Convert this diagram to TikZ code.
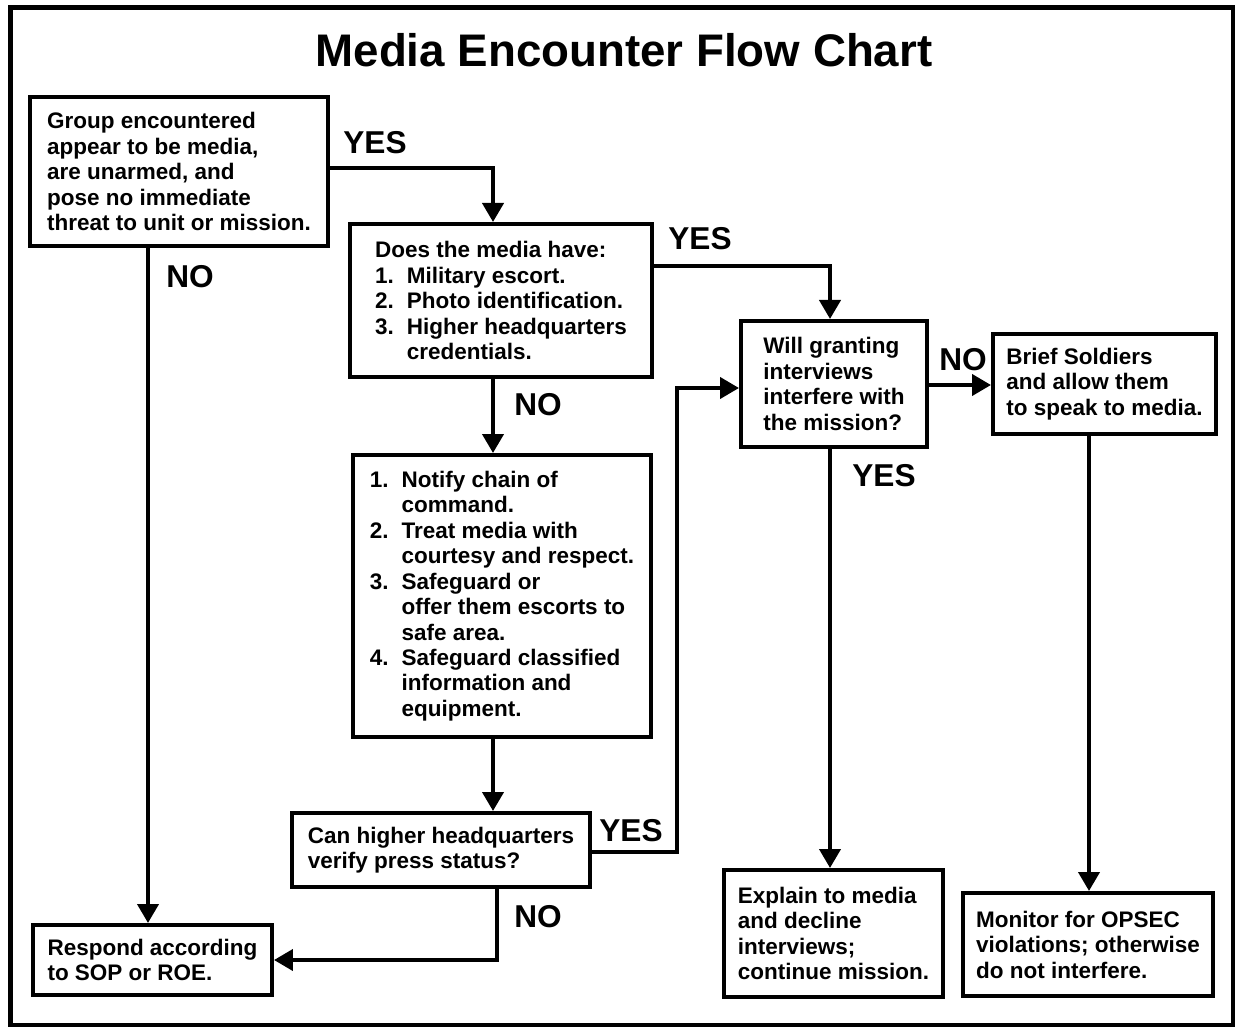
\documentclass[tikz,border=0pt]{standalone}
\usepackage{fontspec}
\setmainfont{Liberation Sans}
\usetikzlibrary{arrows.meta}
\tikzset{
  caixa/.style={draw, line width=2.3pt, align=left, inner sep=0pt, font=\fontsize{12.8}{14.5}\selectfont\bfseries},
  seta/.style={line width=2.3pt, -{Triangle[length=0.38cm,width=0.42cm]}},
  rotulo/.style={font=\fontsize{18}{20}\selectfont\bfseries},
}
\newcommand{\numitem}[1]{\makebox[18pt][l]{#1}}
\newcommand{\recuo}{\hspace*{18pt}}
\begin{document}
\begin{tikzpicture}[x=0.02cm,y=-0.02cm]  %Unidade em pixels
    \useasboundingbox (0,0) rectangle (1236,1027);
    \draw[line width=2.8pt] (10.5,7.5) rectangle (1233,1025); %Moldura
    \node[font=\fontsize{26}{30}\selectfont\bfseries] (titulo) at (624,50) {Media Encounter Flow Chart};
        %Caixas
    \node[caixa, minimum width=5.96cm, minimum height=2.98cm] (grupo) at (179,171.5)
        {Group encountered\\appear to be media,\\are unarmed, and\\pose no immediate\\threat to unit or mission.};
    \node[caixa, minimum width=6.04cm, minimum height=3.06cm] (midia) at (501,300.5)
        {Does the media have:\\\numitem{1.}Military escort.\\\numitem{2.}Photo identification.\\\numitem{3.}Higher headquarters\\\recuo credentials.};
    \node[caixa, minimum width=3.72cm, minimum height=2.52cm] (entrevista) at (834,384)
        {Will granting\\interviews\\interfere with\\the mission?};
    \node[caixa, minimum width=4.46cm, minimum height=2.0cm] (briefing) at (1104.5,384)
        {Brief Soldiers\\and allow them\\to speak to media.};
    \node[caixa, minimum width=5.96cm, minimum height=5.64cm] (notificar) at (502,596)
        {\numitem{1.}Notify chain of\\\recuo command.\\\numitem{2.}Treat media with\\\recuo courtesy and respect.\\\numitem{3.}Safeguard or\\\recuo offer them escorts to\\\recuo safe area.\\\numitem{4.}Safeguard classified\\\recuo information and\\\recuo equipment.};
    \node[caixa, minimum width=5.96cm, minimum height=1.48cm] (verificar) at (441,850)
        {Can higher headquarters\\verify press status?};
    \node[caixa, minimum width=4.78cm, minimum height=1.4cm] (responder) at (152.5,960)
        {Respond according\\to SOP or ROE.};
    \node[caixa, minimum width=4.38cm, minimum height=2.54cm] (explicar) at (833.5,933.5)
        {Explain to media\\and decline\\interviews;\\continue mission.};
    \node[caixa, minimum width=5.0cm, minimum height=2.06cm] (monitorar) at (1088,944.5)
        {Monitor for OPSEC\\violations; otherwise\\do not interfere.};
        %Setas
    \draw[seta] (grupo.east |- 0,168) -| (midia.north -| 493,0); %YES grupo
    \draw[seta] (grupo.south -| 148,0) -- (responder.north -| 148,0); %NO grupo
    \draw[seta] (midia.east |- 0,266) -| (entrevista.north -| 830,0); %YES midia
    \draw[seta] (midia.south -| 493,0) -- (notificar.north -| 493,0); %NO midia
    \draw[seta] (notificar.south -| 493,0) -- (verificar.north -| 493,0);
    \draw[seta] (verificar.east |- 0,852) -| (677,388) -- (entrevista.west |- 0,388); %YES verificar
    \draw[seta] (verificar.south -| 497,0) |- (responder.east |- 0,960); %NO verificar
    \draw[seta] (entrevista.east |- 0,385) -- (briefing.west |- 0,385); %NO entrevista
    \draw[seta] (entrevista.south -| 830,0) -- (explicar.north -| 830,0); %YES entrevista
    \draw[seta] (briefing.south -| 1089,0) -- (monitorar.north -| 1089,0);
        %Rotulos
    \node[rotulo] (sim1) at (375,143) {YES};
    \node[rotulo] (nao1) at (190,277) {NO};
    \node[rotulo] (sim2) at (700,239) {YES};
    \node[rotulo] (nao2) at (538,405) {NO};
    \node[rotulo] (nao3) at (963,360) {NO};
    \node[rotulo] (sim3) at (884,476) {YES};
    \node[rotulo] (sim4) at (631,831) {YES};
    \node[rotulo] (nao4) at (538,917) {NO};
\end{tikzpicture}
\end{document}
